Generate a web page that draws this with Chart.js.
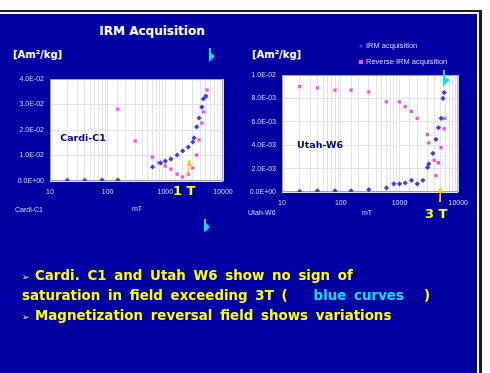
<!DOCTYPE html>
<html>
<head>
<meta charset="utf-8">
<script src="https://cdn.jsdelivr.net/npm/chart.js@4.4.1/dist/chart.umd.min.js"></script>
<style>
  html, body { margin: 0; padding: 0; background: #ffffff; }
  body { width: 490px; height: 373px; position: relative; overflow: hidden; font-family: "Liberation Sans", Arial, sans-serif; }
  #frame { position: absolute; left: -10px; top: 10px; width: 492px; height: 380px; box-sizing: border-box;
           border-top: 2px solid #1c1c1c; border-right: 3px solid #1c1c1c; }
  #slide { position: absolute; left: 0; top: 14px; width: 477px; height: 359px; background: #0000a2; }
  .abs { position: absolute; white-space: nowrap; }
  .head { color: #ffffff; font: bold 12px "DejaVu Sans", sans-serif; line-height: 13px; }
  .unit { color: #ffffff; font: bold 10px "DejaVu Sans", sans-serif; line-height: 12px; }
  .small { color: #dcdcff; font: 7px "Liberation Sans", Arial, sans-serif; line-height: 9px; }
  .tesla { color: #ffff00; font: bold 13px "DejaVu Sans", sans-serif; line-height: 14px; }
  .bul { color: #ffff00; font: bold 13.4px "DejaVu Sans", sans-serif; line-height: 16px; word-spacing: 3px; left: 22px; }
  .bul .mk { font-size: 9px; display: inline-block; width: 13px; word-spacing: 0; }
  .cy { color: #00e5ff; }
  canvas { position: absolute; }
  svg { position: absolute; left: 0; top: 0; }
</style>
</head>
<body>
<div id="frame"></div>
<div id="slide"></div>

<div class="abs head" style="left:0;width:304px;text-align:center;top:25px;">IRM Acquisition</div>
<div class="abs unit" style="left:13px;top:49px;">[Am²/kg]</div>
<div class="abs unit" style="left:252px;top:49px;">[Am²/kg]</div>

<canvas id="cardi" width="240" height="185" style="left:0;top:40px;"></canvas>
<canvas id="utah" width="230" height="185" style="left:245px;top:40px;"></canvas>

<div class="abs small" style="left:15px;top:205px;">Cardi-C1</div>
<div class="abs small" style="left:117px;width:40px;text-align:center;top:204px;">mT</div>
<div class="abs small" style="left:248px;top:208px;">Utah-W6</div>
<div class="abs small" style="left:347px;width:40px;text-align:center;top:208px;">mT</div>

<div class="abs tesla" style="left:173px;top:184px;">1 T</div>
<div class="abs tesla" style="left:425px;top:207px;">3 T</div>

<svg width="490" height="373" viewBox="0 0 490 373">
  <!-- yellow pointers at the field marks -->
  <path d="M186 175 L189 166 L186.5 166 L189.5 159 L192 166 L190 166 L188 175 Z" fill="#ffcc00"/>
  <path d="M439 202 L439.5 193 L437.5 193 L440.5 186 L443 193 L441 193 L441 202 Z" fill="#ffcc00"/>
  <!-- cyan pointers -->
  <path d="M209 48 L211 48 L211 53 L215 56 L211 60 L209 62 Z" fill="#00e5ff"/>
  <path d="M204 219 L206 219 L206 223 L210 227 L206 231 L204 232 Z" fill="#00e5ff"/>
  <path d="M443 70 L445 70 L445 77 L450 80 L445 84 L443 88 Z" fill="#00e5ff"/>
</svg>

<div class="abs bul" style="top:268px;"><span class="mk">➢</span>Cardi. C1 and Utah W6 show no sign of</div>
<div class="abs bul" style="top:288px;">saturation in field exceeding 3T (<span class="cy" style="margin-left:26px;margin-right:20px;">blue curves</span>)</div>
<div class="abs bul" style="top:308px;"><span class="mk">➢</span>Magnetization reversal field shows variations</div>

<script>
// Applied field steps (mT) and magnetisation (Am²/kg) for each sample
const cardiIrmField = [20, 40, 80, 150, 600, 830, 1000, 1250, 1600, 2000, 2500, 3000, 3150, 3500, 3850, 4300, 4550, 5050];
const cardiIrmValue = [0.0003, 0.0003, 0.0004, 0.0004, 0.0055, 0.0071, 0.0078, 0.0086, 0.0102, 0.0118, 0.0133, 0.0153, 0.0169, 0.0212, 0.0247, 0.0290, 0.0322, 0.0333];
const cardiRevField = [150, 300, 600, 770, 1000, 1250, 1600, 2000, 2500, 3000, 3500, 3850, 4300, 4600, 5050, 5300];
const cardiRevValue = [0.0282, 0.0157, 0.0094, 0.0071, 0.0059, 0.0047, 0.0027, 0.0016, 0.0027, 0.0051, 0.0102, 0.0161, 0.0227, 0.0271, 0.0330, 0.0357];

const utahIrmField = [20, 40, 80, 150, 300, 600, 800, 1000, 1250, 1600, 2000, 2500, 3000, 3150, 3700, 4170, 4600, 5100, 5500, 5760];
const utahIrmValue = [0.00005, 0.0001, 0.0001, 0.0001, 0.0002, 0.00035, 0.0007, 0.0007, 0.00077, 0.0010, 0.0007, 0.0010, 0.0021, 0.0024, 0.0033, 0.0045, 0.0055, 0.0063, 0.0080, 0.0085];
const utahRevField = [20, 40, 80, 150, 300, 600, 1000, 1250, 1600, 2000, 3000, 3150, 3900, 4170, 4600, 5100, 5750, 5900];
const utahRevValue = [0.0090, 0.0089, 0.0087, 0.0087, 0.00855, 0.0077, 0.0077, 0.0073, 0.0069, 0.0063, 0.0049, 0.0042, 0.0027, 0.0014, 0.0025, 0.0038, 0.0054, 0.0063];

const fieldTicks = [10, 100, 1000, 10000];
const seriesNames = ['IRM acquisition', 'Reverse IRM acquisition'];

const TICK_COLOR = '#dcdcff';
const GRID_COLOR = '#e2e2ec';
const IRM_COLOR = '#3a3aee';
const REV_COLOR = '#ff44ff';

function sci(v) {
  if (Math.abs(v) < 1e-12) return '0.0E+00';
  const e = Math.floor(Math.log10(Math.abs(v)) + 1e-9);
  const m = v / Math.pow(10, e);
  return m.toFixed(1) + 'E' + (e < 0 ? '-' : '+') + String(Math.abs(e)).padStart(2, '0');
}

function pairs(xs, ys) { return xs.map((x, i) => ({ x, y: ys[i] })); }

// white plot panel, frame, sample name and (optionally) a legend
const panel = {
  id: 'panel',
  beforeDraw(chart) {
    const { ctx, chartArea: a } = chart;
    ctx.save();
    ctx.fillStyle = '#ffffff';
    ctx.fillRect(a.left, a.top, a.width, a.height);
    ctx.restore();
  },
  beforeDatasetsDraw(chart) {
    const { ctx, chartArea: a } = chart;
    ctx.save();
    ctx.strokeStyle = '#a0a0bc';
    ctx.lineWidth = 1;
    ctx.strokeRect(a.left + 0.5, a.top + 0.5, a.width - 1, a.height - 1);
    ctx.restore();
  },
  afterDraw(chart, args, opts) {
    const { ctx, scales: { x, y } } = chart;
    ctx.save();
    ctx.font = 'bold 9.5px "DejaVu Sans", sans-serif';
    ctx.fillStyle = '#000080';
    ctx.textBaseline = 'middle';
    ctx.fillText(opts.name, x.getPixelForValue(opts.at[0]), y.getPixelForValue(opts.at[1]));
    if (opts.legend) {
      ctx.font = '7.5px "Liberation Sans", Arial, sans-serif';
      chart.data.datasets.forEach((ds, i) => {
        const ly = opts.legend.y + i * 16;
        ctx.fillStyle = ds.backgroundColor;
        if (ds.pointStyle === 'rectRot') {
          ctx.beginPath();
          ctx.moveTo(opts.legend.x, ly - 2); ctx.lineTo(opts.legend.x + 2, ly);
          ctx.lineTo(opts.legend.x, ly + 2); ctx.lineTo(opts.legend.x - 2, ly);
          ctx.closePath(); ctx.fill();
        } else {
          ctx.fillRect(opts.legend.x - 2, ly - 2, 4, 4);
        }
        ctx.fillStyle = TICK_COLOR;
        ctx.fillText(ds.label, opts.legend.x + 5, ly);
      });
    }
    ctx.restore();
  }
};

function makeChart(id, irmF, irmV, revF, revV, yMax, yStep, yWidth, pad, panelOpts) {
  return new Chart(document.getElementById(id), {
    type: 'scatter',
    data: {
      datasets: [
        { label: seriesNames[0], data: pairs(irmF, irmV), pointStyle: 'rectRot', pointRadius: 2.6,
          backgroundColor: IRM_COLOR, borderColor: IRM_COLOR, borderWidth: 0 },
        { label: seriesNames[1], data: pairs(revF, revV), pointStyle: 'rect', pointRadius: 2.3,
          backgroundColor: REV_COLOR, borderColor: REV_COLOR, borderWidth: 0 }
      ]
    },
    options: {
      responsive: false,
      animation: false,
      devicePixelRatio: 1,
      layout: { padding: pad },
      plugins: { legend: { display: false }, tooltip: { enabled: false }, panel: panelOpts },
      scales: {
        x: {
          type: 'logarithmic', min: fieldTicks[0], max: fieldTicks[fieldTicks.length - 1],
          grid: { color: GRID_COLOR, drawTicks: false },
          border: { display: false },
          ticks: {
            autoSkip: false, maxRotation: 0, padding: 7, color: TICK_COLOR,
            font: { family: '"Liberation Sans", Arial, sans-serif', size: 7 },
            callback(v) { return fieldTicks.includes(Math.round(v)) && Math.abs(v - Math.round(v)) < 1e-6 ? String(Math.round(v)) : ''; }
          },
          afterFit(s) { s.height = 14; }
        },
        y: {
          min: 0, max: yMax,
          grid: { color: GRID_COLOR, drawTicks: false },
          border: { display: false },
          ticks: {
            stepSize: yStep, padding: 6, color: TICK_COLOR,
            font: { family: '"Liberation Sans", Arial, sans-serif', size: 7 },
            callback: sci
          },
          afterFit(s) { s.width = yWidth; }
        }
      }
    },
    plugins: [panel]
  });
}

makeChart('cardi', cardiIrmField, cardiIrmValue, cardiRevField, cardiRevValue, 0.04, 0.01, 50,
  { left: 0, right: 17, top: 39, bottom: 30 },
  { name: 'Cardi-C1', at: [15, 0.0168] });

makeChart('utah', utahIrmField, utahIrmValue, utahRevField, utahRevValue, 0.01, 0.002, 37,
  { left: 0, right: 15, top: 35, bottom: 19 },
  { name: 'Utah-W6', at: [18, 0.0040], legend: { x: 116, y: 6 } });
</script>
</body>
</html>
